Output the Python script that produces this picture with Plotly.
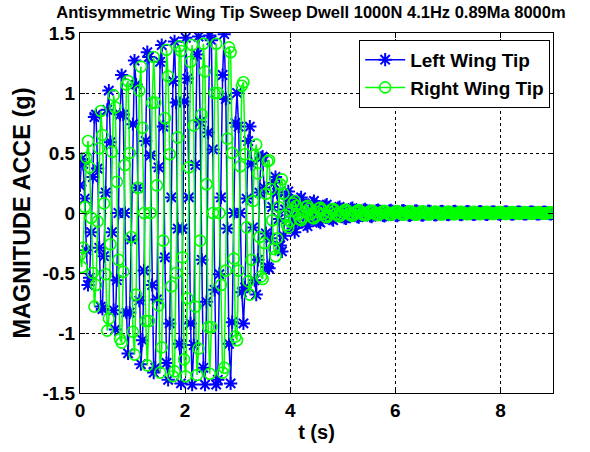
import numpy as np
import plotly.graph_objects as go

# Accelerometer records, sampled at 32.8 Hz (8 samples per 4.1 Hz cycle).
SAMPLE_RATE_HZ = 32.8

# Left wing tip acceleration (g), one row per excitation cycle
LEFT_WING_TIP = [
    0.23, 0.45, 0.41, 0.12, -0.31, -0.60, -0.54, -0.16,
    0.30, 0.80, 0.82, 0.37, -0.29, -0.78, -0.80, -0.36,
    0.17, 0.86, 1.02, 0.59, -0.16, -0.81, -0.97, -0.56,
    0.00, 0.82, 1.15, 0.82, 0.00, -0.83, -1.17, -0.83,
    -0.22, 0.74, 1.27, 1.07, 0.21, -0.73, -1.26, -1.06,
    -0.48, 0.60, 1.34, 1.30, 0.48, -0.60, -1.33, -1.29,
    -0.72, 0.38, 1.26, 1.40, 0.72, -0.37, -1.25, -1.39,
    -0.92, 0.13, 1.10, 1.43, 0.92, -0.13, -1.09, -1.42,
    -0.13, 0.93, 1.46, 1.12, 0.13, -0.92, -1.43, -1.10,
    0.40, 1.32, 1.47, 0.76, -0.39, -1.29, -1.43, -0.74,
    0.67, 1.48, 1.44, 0.53, -0.64, -1.43, -1.39, -0.51,
    0.13, 1.15, 1.49, 0.95, -0.13, -1.09, -1.42, -0.91,
    0.00, 0.75, 1.00, 0.72, 0.00, -0.66, -0.92, -0.62,
    0.12, 0.60, 0.72, 0.41, -0.12, -0.56, -0.68, -0.39,
    0.17, 0.46, 0.47, 0.21, -0.17, -0.45, -0.46, -0.21,
    0.05, 0.25, 0.30, 0.17, -0.05, -0.27, -0.32, -0.19,
    0.03, 0.15, 0.18, 0.10, -0.03, -0.13, -0.16, -0.09,
    0.02, 0.11, 0.13, 0.08, -0.02, -0.09, -0.11, -0.06,
    0.02, 0.08, 0.10, 0.06, -0.01, -0.07, -0.08, -0.05,
    0.01, 0.06, 0.07, 0.04, -0.01, -0.05, -0.06, -0.03,
    0.01, 0.04, 0.05, 0.03, -0.01, -0.04, -0.045, -0.03,
    0.01, 0.034, 0.04, 0.023, -0.006, -0.03, -0.035, -0.02,
    0.005, 0.025, 0.03, 0.017, -0.005, -0.025, -0.03, -0.017,
    0.004, 0.021, 0.025, 0.015, -0.004, -0.021, -0.025, -0.015,
    0.004, 0.018, 0.022, 0.013, -0.004, -0.018, -0.022, -0.013,
    0.003, 0.017, 0.02, 0.012, -0.003, -0.017, -0.02, -0.012,
    0.003, 0.015, 0.018, 0.010, -0.003, -0.015, -0.018, -0.010,
    0.003, 0.013, 0.016, 0.009, -0.003, -0.013, -0.016, -0.009,
    0.002, 0.012, 0.014, 0.008, -0.002, -0.012, -0.014, -0.008,
    0.002, 0.011, 0.013, 0.008, -0.002, -0.011, -0.013, -0.008,
    0.002, 0.010, 0.012, 0.007, -0.002, -0.010, -0.012, -0.007,
    0.002, 0.009, 0.011, 0.006, -0.002, -0.009, -0.011, -0.006,
    0.002, 0.008, 0.010, 0.006, -0.002, -0.008, -0.010, -0.006,
    0.002, 0.008, 0.009, 0.005, -0.002, -0.008, -0.009, -0.005,
    0.001, 0.007, 0.008, 0.005, -0.001, -0.007, -0.008, -0.005,
    0.001, 0.007, 0.008, 0.005, -0.001, -0.007, -0.008, -0.005,
    0.001, 0.006, 0.007, 0.004, -0.001, -0.006, -0.007, -0.004,
]

# Right wing tip acceleration (g), one row per excitation cycle
RIGHT_WING_TIP = [
    -0.35, -0.45, -0.29, 0.05, 0.46, 0.60, 0.38, -0.04,
    -0.50, -0.78, -0.60, -0.07, 0.54, 0.85, 0.65, 0.08,
    -0.51, -0.98, -0.88, -0.26, 0.51, 0.98, 0.88, 0.26,
    -0.39, -1.05, -1.08, -0.49, 0.40, 1.07, 1.10, 0.50,
    -0.20, -0.99, -1.18, -0.68, 0.21, 1.02, 1.22, 0.71,
    0.00, -0.90, -1.27, -0.90, 0.00, 0.92, 1.30, 0.92,
    0.23, -0.77, -1.33, -1.12, -0.23, 0.79, 1.36, 1.14,
    0.49, -0.61, -1.36, -1.32, -0.50, 0.63, 1.39, 1.35,
    -0.37, -1.22, -1.36, -0.71, 0.38, 1.26, 1.40, 0.73,
    -0.78, -1.35, -1.13, -0.23, 0.82, 1.41, 1.18, 0.24,
    -0.95, -1.34, -0.95, 0.00, 1.00, 1.41, 1.00, 0.00,
    -0.60, -1.33, -1.29, -0.48, 0.62, 1.38, 1.34, 0.50,
    -0.38, -1.03, -1.06, -0.48, 0.39, 1.06, 1.09, 0.49,
    -0.12, -0.57, -0.68, -0.39, 0.10, 0.48, 0.57, 0.33,
    -0.20, -0.53, -0.55, -0.25, 0.16, 0.43, 0.44, 0.20,
    -0.06, -0.30, -0.36, -0.21, 0.05, 0.24, 0.28, 0.16,
    -0.02, -0.10, -0.12, -0.07, 0.02, 0.08, 0.10, 0.06,
    -0.01, -0.05, -0.06, -0.035, 0.01, 0.05, 0.06, 0.035,
    -0.008, -0.038, -0.045, -0.026, 0.008, 0.038, 0.045, 0.026,
    -0.006, -0.029, -0.035, -0.02, 0.006, 0.029, 0.035, 0.02,
    -0.005, -0.024, -0.028, -0.016, 0.005, 0.024, 0.028, 0.016,
    -0.004, -0.02, -0.024, -0.014, 0.004, 0.02, 0.024, 0.014,
    -0.003, -0.017, -0.02, -0.012, 0.003, 0.017, 0.02, 0.012,
    -0.003, -0.015, -0.018, -0.010, 0.003, 0.015, 0.018, 0.010,
    -0.003, -0.013, -0.016, -0.009, 0.003, 0.013, 0.016, 0.009,
    -0.003, -0.013, -0.015, -0.009, 0.003, 0.013, 0.015, 0.009,
    -0.002, -0.012, -0.014, -0.008, 0.002, 0.012, 0.014, 0.008,
    -0.002, -0.011, -0.013, -0.008, 0.002, 0.011, 0.013, 0.008,
    -0.002, -0.010, -0.012, -0.007, 0.002, 0.010, 0.012, 0.007,
    -0.002, -0.009, -0.011, -0.006, 0.002, 0.009, 0.011, 0.006,
    -0.002, -0.008, -0.010, -0.006, 0.002, 0.008, 0.010, 0.006,
    -0.002, -0.008, -0.009, -0.005, 0.002, 0.008, 0.009, 0.005,
    -0.001, -0.007, -0.008, -0.005, 0.001, 0.007, 0.008, 0.005,
    -0.001, -0.007, -0.008, -0.005, 0.001, 0.007, 0.008, 0.005,
    -0.001, -0.006, -0.007, -0.004, 0.001, 0.006, 0.007, 0.004,
    -0.001, -0.006, -0.007, -0.004, 0.001, 0.006, 0.007, 0.004,
    -0.001, -0.005, -0.006, -0.003, 0.001, 0.005, 0.006, 0.003,
]

X_TICKS = [0, 2, 4, 6, 8]
Y_TICKS = [-1.5, -1, -0.5, 0, 0.5, 1, 1.5]
Y_TICK_TEXT = ["-1.5", "-1", "-0.5", "0", "0.5", "1", "1.5"]

time_s = np.arange(len(LEFT_WING_TIP)) / SAMPLE_RATE_HZ

FONT = "Liberation Sans, Arial, sans-serif"

fig = go.Figure()
fig.add_trace(go.Scatter(
    x=time_s, y=LEFT_WING_TIP, mode="lines+markers", name="Left Wing Tip",
    line=dict(color="#0000FF", width=1.5),
    marker=dict(symbol="asterisk-open", size=11, color="#0000FF",
                line=dict(color="#0000FF", width=2)),
))
fig.add_trace(go.Scatter(
    x=time_s, y=RIGHT_WING_TIP, mode="lines+markers", name="Right Wing Tip",
    line=dict(color="#00FF00", width=1.5),
    marker=dict(symbol="circle-open", size=11, color="#00FF00",
                line=dict(color="#00FF00", width=1.6)),
))

axis_common = dict(
    showline=True, linecolor="black", linewidth=1, mirror="ticks",
    ticks="inside", ticklen=5, tickcolor="black",
    showgrid=True, gridcolor="black", gridwidth=1, griddash="3px,3px",
    zeroline=False,
    tickfont=dict(family=FONT, size=19, color="black", weight="bold"),
)

fig.update_layout(
    width=590, height=452,
    margin=dict(l=80, r=37, t=33, b=51),
    paper_bgcolor="white", plot_bgcolor="white",
    title=dict(
        text="<b>Antisymmetric Wing Tip Sweep Dwell 1000N 4.1Hz 0.89Ma 8000m</b>",
        font=dict(family=FONT, size=16.5, color="black"),
        x=0.527, xanchor="center", y=0.972, yanchor="middle",
    ),
    xaxis=dict(
        range=[0, 9], tickvals=X_TICKS, ticktext=[str(v) for v in X_TICKS],
        title=dict(text="<b>t (s)</b>", font=dict(family=FONT, size=20, color="black"),
                   standoff=5),
        **axis_common,
    ),
    yaxis=dict(
        range=[-1.5, 1.5], tickvals=Y_TICKS, ticktext=Y_TICK_TEXT,
        title=dict(text="<b>MAGNITUDE ACCE (g)</b>",
                   font=dict(family=FONT, size=23.5, color="black"), standoff=5),
        **axis_common,
    ),
    legend=dict(
        x=0.994, xanchor="right", y=0.981, yanchor="top",
        bgcolor="white", bordercolor="black", borderwidth=1,
        font=dict(family=FONT, size=19, color="black", weight="bold"),
        tracegroupgap=0, itemwidth=40,
    ),
    showlegend=True,
)

fig.write_html("out.html")
